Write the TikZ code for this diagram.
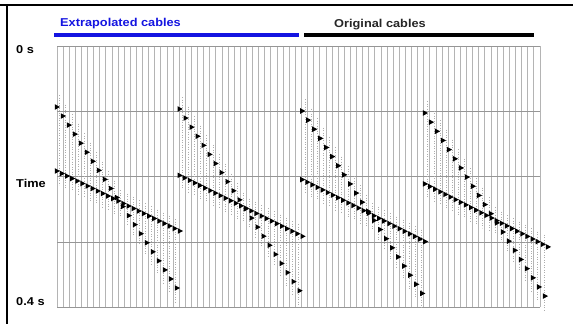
\documentclass[tikz,border=0pt]{standalone}
\usepackage{fontspec}
\setmainfont{Liberation Sans}
\definecolor{gridgray}{RGB}{180,180,180}
\definecolor{hgray}{RGB}{150,150,150}
\definecolor{cblue}{RGB}{20,20,225}
\begin{document}
\begin{tikzpicture}[x=1pt,y=-1pt,
  lbl/.style={font=\bfseries\fontsize{11.4}{13}\selectfont, inner sep=0pt, anchor=west, xscale=1.12},
  gridv/.style={draw=gridgray, line width=1},
  gridh/.style={draw=hgray, line width=0.8},
  wig/.style={draw=black!32, line width=0.6, dash pattern=on 0.7 off 1.8},
  cable/.style={line width=3.5}]
\useasboundingbox (0,0) rectangle (573,324);
\fill[white] (0,0) rectangle (573,324);
% frame (top and left)
\draw[line width=2] (0,4.5) -- (573,4.5);
\draw[line width=2] (7,4.5) -- (7,324);
% header
\node[lbl, text=cblue] (extra) at (60,24) {Extrapolated cables};
\node[lbl, text=black!85] (orig) at (334,25) {Original cables};
\draw[cable, cblue] (54,35) -- (299,35);
\draw[cable, black] (304,35) -- (534,35);
% axis labels
\node[lbl] (t0) at (16,50) {0 s};
\node[lbl] (tm) at (16,183) {Time};
\node[lbl] (t4) at (16,302) {0.4 s};
% grid
\foreach \i in {0,...,79}{
  \draw[gridv] ({57+\i*6.114},46) -- ({57+\i*6.114},307);
}
\foreach \y in {46,111,176,242,307}{
  \draw[gridh] (57,\y) -- (540,\y);
}
% events
\foreach \k in {0,...,3}{
  \pgfmathsetmacro\xo{57+\k*122.7}
  \pgfmathsetmacro\sa{107+2*\k}
  \pgfmathsetmacro\sb{288+2.7*\k}
  \pgfmathsetmacro\ga{171+4.3*\k}
  \pgfmathsetmacro\gb{231+5.3*\k}
  % faint wiggle traces
  \foreach \j in {0,...,19}{
    \pgfmathsetmacro\xx{\xo+\j*6.114+2.6}
    \pgfmathsetmacro\ys{\sa+(\sb-\sa)*\j/19}
    \pgfmathsetmacro\yg{\ga+(\gb-\ga)*\j/19}
    \pgfmathsetmacro\ytop{min(\ys,\yg)-12}
    \pgfmathsetmacro\ybot{max(\ys,\yg)+14}
    \draw[wig] (\xx,\ytop) -- (\xx,\ybot);
  }
  % steep event
  \foreach \j in {0,...,20}{
    \pgfmathsetmacro\xx{\xo+\j*6}
    \pgfmathsetmacro\ys{\sa+(\sb-\sa)*\j/20}
    \fill[black] ({\xx-2.2},{\ys-2.8}) -- ({\xx+3},\ys) -- ({\xx-2.2},{\ys+2.8}) -- cycle;
  }
  % gentle event
  \foreach \j in {0,...,24}{
    \pgfmathsetmacro\xx{\xo+\j*5.125}
    \pgfmathsetmacro\yg{\ga+(\gb-\ga)*\j/24}
    \fill[black] ({\xx-2.2},{\yg-2.8}) -- ({\xx+3},\yg) -- ({\xx-2.2},{\yg+2.8}) -- cycle;
  }
}
\end{tikzpicture}
\end{document}
